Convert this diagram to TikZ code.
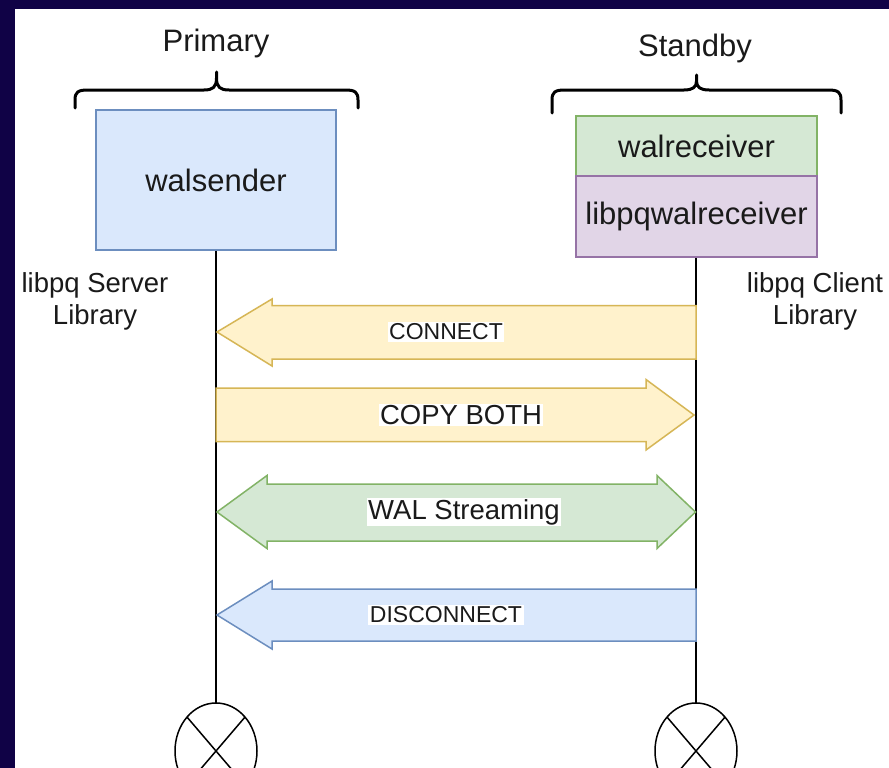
\documentclass[tikz,border=0pt]{standalone}
\usepackage{fontspec}
\setmainfont{Liberation Sans}
\usetikzlibrary{shapes.geometric}
\definecolor{navy}{RGB}{16,2,70}
\definecolor{txt}{RGB}{26,26,26}
\definecolor{yelF}{HTML}{FFF2CC}\definecolor{yelS}{HTML}{D6B656}
\definecolor{grnF}{HTML}{D5E8D4}\definecolor{grnS}{HTML}{82B366}
\definecolor{bluF}{HTML}{DAE8FC}\definecolor{bluS}{HTML}{6C8EBF}
\definecolor{purF}{HTML}{E1D5E7}\definecolor{purS}{HTML}{9673A6}
\begin{document}
\begin{tikzpicture}[x=1pt,y=-1pt,
  box/.style={draw, line width=1.5pt, minimum width=240pt, inner sep=0pt, text=txt, font=\fontsize{31}{37}\selectfont},
  lbl/.style={fill=white, inner sep=1.5pt, text=txt},
  side/.style={align=center, text=txt, font=\fontsize{27.5}{32}\selectfont},
  head/.style={text=txt, font=\fontsize{31}{37}\selectfont},
  brace/.style={line width=3pt, line cap=round, line join=round, draw=black},
  life/.style={line width=1.5pt, draw=black},
  endmark/.style={ellipse, draw=black, line width=1.5pt, minimum width=82pt, minimum height=96pt, inner sep=0pt, outer sep=0pt},
  sig/.style={line width=1.5pt, line join=miter}
]
\useasboundingbox (0,0) rectangle (889,768);
\fill[navy] (0,0) rectangle (889,768);
\fill[white] (15,9) rectangle (889,768);
\begin{scope}
\clip (15,9) rectangle (889,768);

% headings
\node[head, anchor=base] (prim) at (216,52) {Primary};
\node[head, anchor=base] (stby) at (695,57) {Standby};

% braces
\draw[brace] (75,108) -- (75,100) .. controls (75,92) and (78,90) .. (88,90) -- (204,90)
  .. controls (213,90) and (216.5,87) .. (216.5,78) -- (216.5,72) -- (216.5,78)
  .. controls (216.5,87) and (220,90) .. (229,90) -- (345,90)
  .. controls (355,90) and (358,92) .. (358,100) -- (358,108);
\draw[brace] (552,113) -- (552,100) .. controls (552,92) and (555,90) .. (565,90) -- (684,90)
  .. controls (693,90) and (696.5,87) .. (696.5,81) -- (696.5,75) -- (696.5,81)
  .. controls (696.5,87) and (700,90) .. (709,90) -- (828,90)
  .. controls (838,90) and (841,92) .. (841,100) -- (841,113);

% boxes
\node[box, fill=bluF, draw=bluS, minimum height=140pt] (ws) at (216,180) {walsender};
\node[box, fill=grnF, draw=grnS, minimum width=241pt, minimum height=60pt] (wr) at (696.5,146) {walreceiver};
\node[box, fill=purF, draw=purS, minimum width=241pt, minimum height=81pt] (lw) at (696.5,216.5) {libpqwalreceiver};

% side labels
\node[side] (srv) at (95,301.5) {libpq Server\\Library};
\node[side] (cli) at (815,301.5) {libpq Client\\Library};

% end markers
\node[endmark] (endL) at (216,751) {};
\node[endmark] (endR) at (696,751) {};
\draw[life] (endL.north west) -- (endL.south east);
\draw[life] (endL.north east) -- (endL.south west);
\draw[life] (endR.north west) -- (endR.south east);
\draw[life] (endR.north east) -- (endR.south west);

% lifelines
\draw[life] (ws.south) -- (endL.north);
\draw[life] (lw.south -| endR.north) -- (endR.north);

% CONNECT
\draw[sig, fill=yelF, draw=yelS] (696,305.5) -- (272,305.5) -- (272,299) -- (217,332) -- (272,366) -- (272,359) -- (696,359) -- cycle;
\node[lbl, font=\fontsize{23}{27}\selectfont] (lc) at (446,332) {CONNECT};
% COPY BOTH
\draw[sig, fill=yelF, draw=yelS] (216,388) -- (646,388) -- (646,379.5) -- (694,415) -- (646,450) -- (646,441.5) -- (216,441.5) -- cycle;
\node[lbl, font=\fontsize{27.5}{33}\selectfont] (lcb) at (461,415) {COPY BOTH};
% WAL Streaming
\draw[sig, fill=grnF, draw=grnS] (217,512) -- (267,475.5) -- (267,484) -- (657,484) -- (657,475.5) -- (695.5,512) -- (657,548.5) -- (657,541) -- (267,541) -- (267,548.5) -- cycle;
\node[lbl, font=\fontsize{27.5}{33}\selectfont] (lws) at (464,512) {WAL Streaming};
% DISCONNECT
\draw[sig, fill=bluF, draw=bluS] (696,589) -- (272,589) -- (272,581) -- (217,615) -- (272,649) -- (272,641) -- (696,641) -- cycle;
\node[lbl, font=\fontsize{23}{27}\selectfont] (ld) at (446,615) {DISCONNECT};
\end{scope}
\end{tikzpicture}
\end{document}
